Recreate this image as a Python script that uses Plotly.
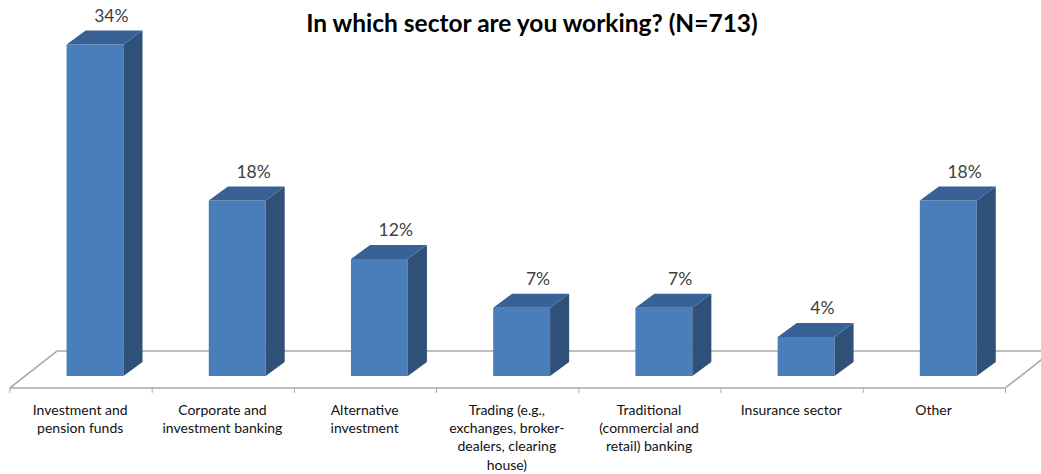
import plotly.graph_objects as go

# Survey responses per sector, in percent
categories = [
    "Investment and<br>pension funds",
    "Corporate and<br>investment banking",
    "Alternative<br>investment",
    "Trading (e.g.,<br>exchanges, broker-<br>dealers, clearing<br>house)",
    "Traditional<br>(commercial and<br>retail) banking",
    "Insurance sector",
    "Other",
]
shares = [34, 18, 12, 7, 7, 4, 18]
title_text = "In which sector are you working? (N=713)"

# Fixed oblique projection of the bars, in axis units
BAR_WIDTH = 0.40
BAR_SHIFT = 0.098
DEPTH_X = 0.134
DEPTH_Y = 1.44
FLOOR_FRONT = -1.23
FLOOR_BACK = 2.56
FLOOR_LEFT = -0.5
FLOOR_RIGHT = 6.5
FLOOR_SKEW = 0.33

FRONT = "#4A7EBB"
SIDE = "#2F5179"
TOP = "#386195"
FLOOR_LINE = "#A8A8A8"
FONT = "Lato, Carlito, sans-serif"

positions = list(range(len(shares)))
lefts = [p + BAR_SHIFT - BAR_WIDTH / 2 for p in positions]
rights = [p + BAR_SHIFT + BAR_WIDTH / 2 for p in positions]

side_x, side_y, top_x, top_y = [], [], [], []
for left, right, value in zip(lefts, rights, shares):
    side_x += [right, right + DEPTH_X, right + DEPTH_X, right, right, None]
    side_y += [0, DEPTH_Y, value + DEPTH_Y, value, 0, None]
    top_x += [left, left + DEPTH_X, right + DEPTH_X, right, left, None]
    top_y += [value, value + DEPTH_Y, value + DEPTH_Y, value, value, None]

fig = go.Figure()
fig.add_bar(
    x=[p + BAR_SHIFT for p in positions],
    y=shares,
    width=BAR_WIDTH,
    marker=dict(color=FRONT, line=dict(width=0)),
    hoverinfo="skip",
)
for xs, ys, colour in ((side_x, side_y, SIDE), (top_x, top_y, TOP)):
    fig.add_scatter(
        x=xs, y=ys, mode="lines", fill="toself", fillcolor=colour,
        line=dict(width=0, color=colour), hoverinfo="skip",
    )
fig.add_scatter(
    x=[r + DEPTH_X - BAR_WIDTH / 2 - 0.019 for r in rights],
    y=[v + DEPTH_Y + 1.34 for v in shares],
    mode="text",
    text=[f"{v}%" for v in shares],
    textposition="middle center",
    textfont=dict(family=FONT, size=17.5, color="#404040"),
    cliponaxis=False,
    hoverinfo="skip",
)

# Floor outline and the tick marks between categories
line_style = dict(color=FLOOR_LINE, width=1.6)
floor_segments = [
    (FLOOR_LEFT, FLOOR_FRONT, FLOOR_RIGHT, FLOOR_FRONT),
    (FLOOR_LEFT, FLOOR_FRONT, FLOOR_LEFT + FLOOR_SKEW, FLOOR_BACK),
    (FLOOR_RIGHT, FLOOR_FRONT, FLOOR_RIGHT + FLOOR_SKEW, FLOOR_BACK),
    (FLOOR_LEFT + FLOOR_SKEW, FLOOR_BACK, FLOOR_RIGHT + FLOOR_SKEW, FLOOR_BACK),
]
shapes = [
    dict(type="line", x0=a, y0=b, x1=c, y1=d, layer="below", line=line_style)
    for a, b, c, d in floor_segments
]
for k in range(len(shares) + 1):
    shapes.append(dict(
        type="line", x0=FLOOR_LEFT + k, x1=FLOOR_LEFT + k,
        y0=FLOOR_FRONT, y1=FLOOR_FRONT - 0.5, layer="below",
        line=dict(color=FLOOR_LINE, width=1),
    ))

fig.update_layout(
    width=1041,
    height=474,
    margin=dict(l=0, r=0, t=0, b=81),
    paper_bgcolor="white",
    plot_bgcolor="white",
    showlegend=False,
    shapes=shapes,
    title=dict(
        text=f"<b>{title_text}</b>",
        x=532 / 1041, xanchor="center",
        y=1 - 23 / 474, yanchor="middle",
        font=dict(family=FONT, size=24.5, color="#000000"),
    ),
    xaxis=dict(
        range=[-0.570, 6.750],
        tickmode="array",
        tickvals=[p - 0.006 for p in positions],
        ticktext=categories,
        tickangle=0,
        ticks="",
        ticklabelstandoff=7,
        showgrid=False,
        zeroline=False,
        showline=False,
        tickfont=dict(family=FONT, size=14, color="#111111"),
        fixedrange=True,
    ),
    yaxis=dict(
        range=[-1.744, 38.56],
        visible=False,
        fixedrange=True,
    ),
)

fig.write_html("out.html", config=dict(displayModeBar=False))
